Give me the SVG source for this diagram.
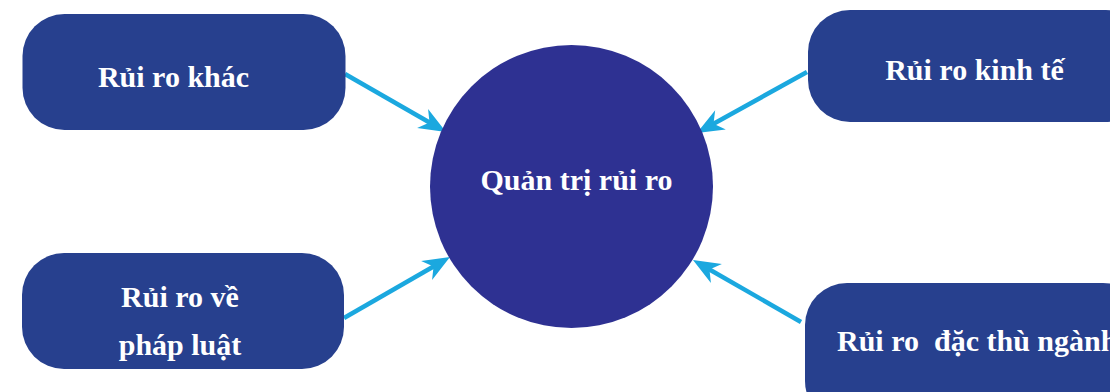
<svg xmlns="http://www.w3.org/2000/svg" width="1110" height="392" viewBox="0 0 1110 392">
<style>
.box{fill:#27408e;}
.hub{fill:#2e3192;}
.lbl{font-family:"Liberation Serif","Times New Roman",serif;font-weight:bold;font-size:30px;fill:#ffffff;}
.mid{text-anchor:middle;}
.conn{stroke:#1ba8df;stroke-width:4.5;fill:none;marker-end:url(#arr);}
</style>
<defs>
<marker id="arr" markerUnits="userSpaceOnUse" viewBox="-41 -12 42 24" refX="-15" refY="0" markerWidth="42" markerHeight="24" orient="auto">
<path d="M0,0 L-27,-11 L-19,0 L-27,11 Z" fill="#1ba8df"/>
</marker>
</defs>
<rect width="1110" height="392" fill="#ffffff"/>
<g id="connectors">
<line class="conn" x1="345" y1="74" x2="433" y2="124.5"/>
<line class="conn" x1="344" y1="318" x2="437" y2="264.5"/>
<line class="conn" x1="807" y1="72" x2="710" y2="125.7"/>
<line class="conn" x1="801" y1="322" x2="706" y2="267.5"/>
</g>
<g id="node-hub">
<circle class="hub" cx="571.5" cy="186.5" r="141.5"/>
<text class="lbl mid" x="576.5" y="190">Quản trị rủi ro</text>
</g>
<g id="node-khac">
<rect class="box" x="22.5" y="14" width="323" height="116" rx="42"/>
<text class="lbl mid" x="173.5" y="87">Rủi ro khác</text>
</g>
<g id="node-phapluat">
<rect class="box" x="22" y="253" width="322" height="116" rx="42"/>
<text class="lbl mid" x="180" y="307">Rủi ro về</text>
<text class="lbl mid" x="180" y="355">pháp luật</text>
</g>
<g id="node-kinhte">
<rect class="box" x="808" y="10" width="340" height="112" rx="42"/>
<text class="lbl mid" x="974.5" y="80">Rủi ro kinh tế</text>
</g>
<g id="node-dacthu">
<rect class="box" x="805" y="283" width="340" height="140" rx="42"/>
<text class="lbl" x="837" y="351" xml:space="preserve">Rủi ro  đặc thù ngành</text>
</g>
</svg>
